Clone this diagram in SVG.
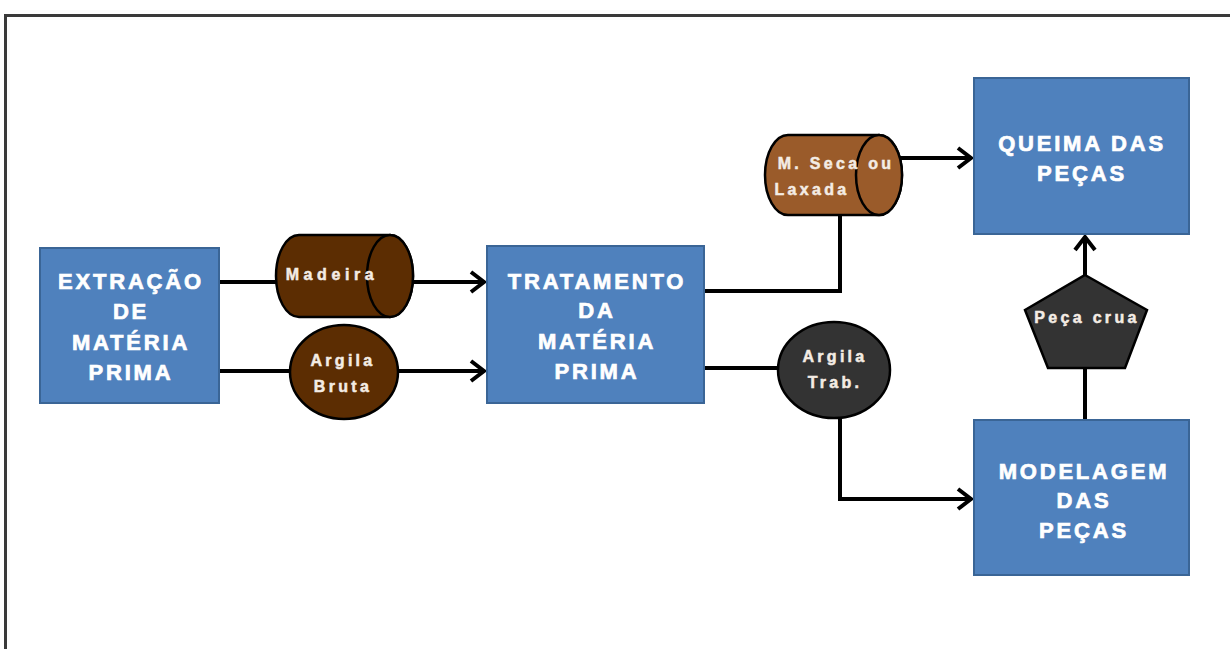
<svg xmlns="http://www.w3.org/2000/svg" width="1230" height="649" viewBox="0 0 1230 649">
<defs>
<style>
.box{fill:#4F81BD;stroke:#3A6596;stroke-width:2}
.bt{font-family:"Liberation Sans",Arial,sans-serif;font-weight:bold;font-size:22px;letter-spacing:2.8px;fill:#ffffff;stroke:#ffffff;stroke-width:0.7;text-anchor:middle}
.st{font-family:"Liberation Sans",Arial,sans-serif;font-weight:bold;font-size:16px;letter-spacing:3.3px;fill:#f4ece4;stroke:#f4ece4;stroke-width:0.5;text-anchor:middle}
.ln{fill:none;stroke:#000;stroke-width:4}
.sh{stroke:#000;stroke-width:2.5}
</style>
<marker id="arr" markerUnits="userSpaceOnUse" markerWidth="24" markerHeight="26" refX="17" refY="13" orient="auto">
<path d="M4,3 L17,13 L4,23" fill="none" stroke="#000" stroke-width="4"/>
</marker>
</defs>
<rect width="1230" height="649" fill="#ffffff"/>
<g id="frame">
<path d="M5.5,649 L5.5,15.5 L1230,15.5" fill="none" stroke="#3a3a3a" stroke-width="3"/>
</g>
<g id="connectors">
<path class="ln" d="M219,282 L484,282" marker-end="url(#arr)"/>
<path class="ln" d="M219,371 L484,371" marker-end="url(#arr)"/>
<path class="ln" d="M880,158 L971,158" marker-end="url(#arr)"/>
<path class="ln" d="M704,291 L840,291 L840,214"/>
<path class="ln" d="M704,368 L780,368"/>
<path class="ln" d="M840,416 L840,499 L971,499" marker-end="url(#arr)"/>
<path class="ln" d="M1085,420 L1085,366"/>
<path class="ln" d="M1085,277 L1085,237" marker-end="url(#arr)"/>
</g>
<g id="extracao">
<rect class="box" x="40" y="248" width="179" height="155"/>
<text class="bt" x="131" y="289">EXTRAÇÃO</text>
<text class="bt" x="131" y="319">DE</text>
<text class="bt" x="131" y="350">MATÉRIA</text>
<text class="bt" x="131" y="380">PRIMA</text>
</g>
<g id="tratamento">
<rect class="box" x="487" y="246" width="217" height="157"/>
<text class="bt" x="597" y="289">TRATAMENTO</text>
<text class="bt" x="597" y="318">DA</text>
<text class="bt" x="597" y="349">MATÉRIA</text>
<text class="bt" x="597" y="379">PRIMA</text>
</g>
<g id="queima">
<rect class="box" x="974" y="78" width="215" height="156"/>
<text class="bt" x="1082" y="151">QUEIMA DAS</text>
<text class="bt" x="1082" y="181">PEÇAS</text>
</g>
<g id="modelagem">
<rect class="box" x="974" y="420" width="215" height="155"/>
<text class="bt" x="1084" y="479">MODELAGEM</text>
<text class="bt" x="1084" y="508">DAS</text>
<text class="bt" x="1084" y="538">PEÇAS</text>
</g>
<g id="madeira">
<path class="sh" fill="#5C2D02" d="M299,235 L390,235 A23,41 0 0 1 390,317 L299,317 A23,41 0 0 1 299,235 Z"/>
<ellipse class="sh" fill="#5C2D02" cx="390" cy="276" rx="23" ry="41"/>
<text class="st" x="332" y="280" style="letter-spacing:4.6px">Madeira</text>
</g>
<g id="argila-bruta">
<ellipse class="sh" fill="#5C2D02" cx="344" cy="372" rx="54" ry="47"/>
<text class="st" x="343" y="366">Argila</text>
<text class="st" x="343" y="392">Bruta</text>
</g>
<g id="mseca">
<path class="sh" fill="#9A5B2A" d="M788,135 L879,135 A23,40 0 0 1 879,215 L788,215 A23,40 0 0 1 788,135 Z"/>
<ellipse class="sh" fill="#9A5B2A" cx="879" cy="175" rx="23" ry="40"/>
<text class="st" x="836" y="169">M. Seca ou</text>
<text class="st" x="812" y="195">Laxada</text>
</g>
<g id="argila-trab">
<ellipse class="sh" fill="#333333" cx="834" cy="370" rx="56" ry="48"/>
<text class="st" x="835" y="362">Argila</text>
<text class="st" x="835" y="388">Trab.</text>
</g>
<g id="peca-crua">
<polygon class="sh" fill="#333333" points="1085,275 1147,310 1125,368 1048,368 1025,310"/>
<text class="st" x="1087" y="323">Peça crua</text>
</g>
</svg>
